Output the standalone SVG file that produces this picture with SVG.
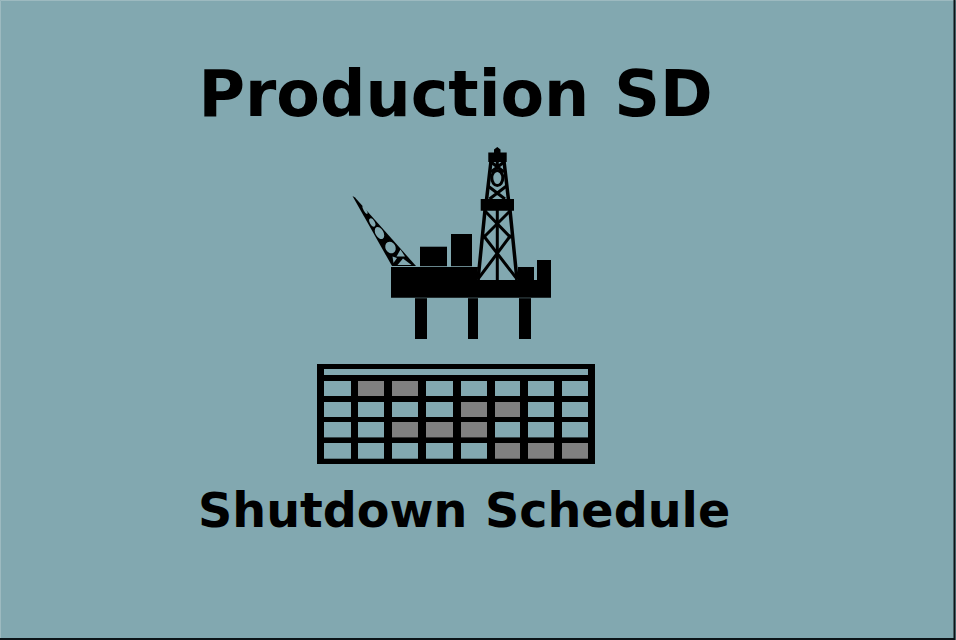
<svg xmlns="http://www.w3.org/2000/svg" width="956" height="640" viewBox="0 0 956 640">
<style>
.t{font-family:"DejaVu Sans",sans-serif;font-weight:bold;fill:#000}
.on{fill:#808080}.off{fill:#82a8b0}
.l{stroke:#000;fill:none}
</style>
<rect width="956" height="640" fill="#82a8b0"/>
<path d="M0.500 640V0.500H956" fill="none" stroke="#9dbac0"/>
<path d="M954.500 0V639H0" fill="none" stroke="#0c1418" stroke-width="2"/>
<g id="title"><text class="t" x="198.500" y="116" font-size="63.500" word-spacing="3">Production SD</text></g>
<g id="platform">
<path d="M391 267H478L477 280H518V267H534V280H537V260H551V297.700H391Z"/>
<rect x="420" y="246.700" width="27" height="19.500"/>
<rect x="451" y="234" width="21" height="32.200"/>
<rect x="415" y="298.200" width="12" height="40.800"/>
<rect x="468" y="298.200" width="10" height="40.800"/>
<rect x="519" y="298.200" width="12" height="40.800"/>
<path d="M488.300 152.500H494V149.500L497.300 147L500.500 149.500V152.500H506.700V162H488.300Z"/>
<path d="M480.700 199H514V210.700H480.700Z"/>
<g class="l" stroke-width="3.500">
<path d="M491 161L486.500 200M504 161L508.500 200"/>
<path d="M485 210L478 280M510 210L517 280"/>
</g>
<g class="l" stroke-width="3">
<path d="M497.300 210V280"/>
<path d="M497.300 161V168M491 162L504 172M504 162L491 172"/>
<ellipse cx="497.300" cy="178" rx="5.500" ry="7.500"/>
<path d="M488 186L505 199M506.500 186L489.500 199"/>
<path d="M485 211L511 238M510 211L483 238"/>
<path d="M483 235L517 279M511 235L478 279"/>
</g>
<path d="M352.500 196L355 197.500L416 266H392Z"/>
<g class="off">
<ellipse cx="365" cy="210" rx="1.300" ry="4.500" transform="rotate(-30 365 210)"/>
<ellipse cx="372.300" cy="222.500" rx="2.400" ry="4.500" transform="rotate(-30 372.300 222.500)"/>
<ellipse cx="379.500" cy="233" rx="4" ry="6.500" transform="rotate(-30 379.500 233)"/>
<ellipse cx="390.500" cy="247.500" rx="5" ry="6" transform="rotate(-30 390.500 247.500)"/>
<path d="M400.500 249.500L396.500 256.500H405Z"/>
<path d="M392.500 256.500L397 258L393.500 263Z"/>
<path d="M403 258.500L397.500 265H411.500Z"/>
</g>
</g>
<g id="schedule">
<rect x="317" y="364" width="278" height="100"/>
<rect class="off" x="324" y="369" width="264" height="6"/>
<rect class="off" x="324" y="381" width="27" height="15"/><rect class="on" x="358" y="381" width="26" height="15"/><rect class="on" x="392" y="381" width="26" height="15"/><rect class="off" x="426" y="381" width="27" height="15"/><rect class="off" x="461" y="381" width="26" height="15"/><rect class="off" x="495" y="381" width="25" height="15"/><rect class="off" x="528" y="381" width="26" height="15"/><rect class="off" x="562" y="381" width="26" height="15"/>
<rect class="off" x="324" y="402" width="27" height="15"/><rect class="off" x="358" y="402" width="26" height="15"/><rect class="off" x="392" y="402" width="26" height="15"/><rect class="off" x="426" y="402" width="27" height="15"/><rect class="on" x="461" y="402" width="26" height="15"/><rect class="on" x="495" y="402" width="25" height="15"/><rect class="off" x="528" y="402" width="26" height="15"/><rect class="off" x="562" y="402" width="26" height="15"/>
<rect class="off" x="324" y="422" width="27" height="15.400"/><rect class="off" x="358" y="422" width="26" height="15.400"/><rect class="on" x="392" y="422" width="26" height="15.400"/><rect class="on" x="426" y="422" width="27" height="15.400"/><rect class="on" x="461" y="422" width="26" height="15.400"/><rect class="off" x="495" y="422" width="25" height="15.400"/><rect class="off" x="528" y="422" width="26" height="15.400"/><rect class="off" x="562" y="422" width="26" height="15.400"/>
<rect class="off" x="324" y="443" width="27" height="15.700"/><rect class="off" x="358" y="443" width="26" height="15.700"/><rect class="off" x="392" y="443" width="26" height="15.700"/><rect class="off" x="426" y="443" width="27" height="15.700"/><rect class="off" x="461" y="443" width="26" height="15.700"/><rect class="on" x="495" y="443" width="25" height="15.700"/><rect class="on" x="528" y="443" width="26" height="15.700"/><rect class="on" x="562" y="443" width="26" height="15.700"/>
</g>
<g id="subtitle"><text class="t" x="198" y="527" font-size="47.600" word-spacing="1">Shutdown Schedule</text></g>
</svg>
